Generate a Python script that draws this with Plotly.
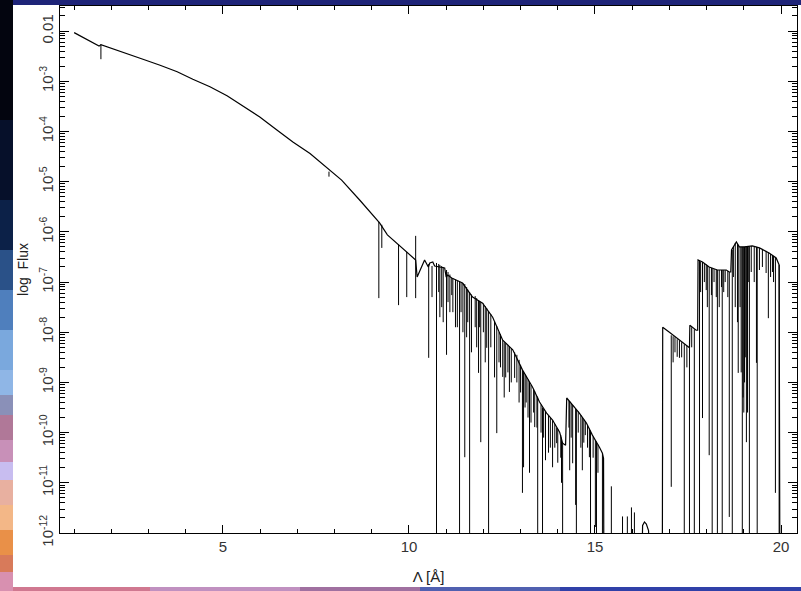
import numpy as np
import plotly.graph_objects as go

# ---- data (wavelength in Angstrom, log10 flux) ----
cont_wl = [1.00, 1.67, 1.72, 2.42, 2.85, 3.31, 3.77, 4.19, 4.65, 5.11, 5.54, 5.99, 6.45, 6.88,
           7.34, 8.19, 8.68, 9.08, 9.21, 9.42, 9.66, 9.94, 10.10, 10.18, 10.22, 10.42, 10.52,
           10.56, 10.64, 10.69, 10.96, 11.00, 11.04, 11.15, 11.44,
           11.71, 11.98, 12.25, 12.52, 12.79, 13.05, 13.16, 13.32, 13.51, 13.70, 13.86, 14.05,
           14.13, 14.21, 14.24, 14.40, 14.58, 14.77, 14.93, 15.12, 15.20, 15.23, 15.24,
           16.25, 16.28, 16.33, 16.38, 16.44, 16.48, 16.81, 16.82, 17.00, 17.27, 17.54,
           17.55, 17.72, 17.76, 17.77, 17.89, 18.07, 18.29, 18.53, 18.61, 18.65, 18.67,
           18.80, 18.88, 19.01, 19.23, 19.42, 19.68, 19.87, 19.95, 19.97]
cont_logf = [-2.03, -2.30, -2.27, -2.44, -2.56, -2.68, -2.81, -2.96, -3.11, -3.29, -3.49, -3.71,
             -3.97, -4.21, -4.44, -4.97, -5.37,
             -5.71, -5.82, -6.06, -6.22, -6.40, -6.52, -6.56, -6.90, -6.56, -6.70,
             -6.62, -6.60, -6.68, -6.72, -6.90, -6.86,
             -6.92, -7.02, -7.30, -7.42, -7.70, -8.16, -8.35, -8.75, -8.89, -9.09, -9.39, -9.61,
             -9.75, -9.99, -10.21, -10.25, -9.31, -9.45, -9.61, -9.81, -10.05, -10.29, -10.41,
             -10.51, -13.0, -13.0, -11.85, -11.78, -11.82, -11.95, -13.0, -13.0, -7.90, -8.00,
             -8.16, -8.31, -7.86, -7.96, -7.96, -6.56, -6.60, -6.70, -6.76, -6.76, -6.80, -6.80,
             -6.36, -6.20, -6.30, -6.30, -6.28, -6.32, -6.42, -6.52, -6.66, -13.0]

line_wl = [1.72, 7.85, 9.19, 9.27, 9.72, 9.94, 10.18, 10.53, 10.74, 10.80, 10.83, 10.88, 11.01,
           11.05, 11.15, 11.18, 11.25, 11.36, 11.40, 11.45, 11.50, 11.55, 11.63, 11.78, 11.82,
           11.87, 11.93, 12.00, 12.09, 12.14, 12.36, 12.42, 12.52, 12.60, 12.70, 12.84, 12.90,
           13.05, 13.08, 13.15, 13.24, 13.28, 13.38, 13.44, 13.46, 13.59, 13.62, 13.67, 13.80,
           13.86, 13.97, 14.00, 14.10, 14.13, 14.32, 14.40, 14.48, 14.50, 14.66, 14.74, 14.85,
           14.88, 15.01, 15.04, 15.20, 15.44, 15.74, 15.87, 15.98, 16.06,
           17.05, 17.21, 17.27, 17.40, 17.54, 17.67, 17.81, 17.89, 17.99, 18.07, 18.13, 18.15,
           18.26, 18.29, 18.40, 18.42, 18.61, 18.69, 18.83, 18.85, 18.96, 18.98, 19.02, 19.04,
           19.07, 19.10, 19.15, 19.34, 19.36, 19.42, 19.60, 19.66, 19.77, 19.85, 19.95,
           10.62, 10.92, 11.10, 11.30, 11.58, 11.68, 11.90, 12.05, 12.20, 12.30, 12.46, 12.56,
           12.66, 12.75, 12.96, 13.00, 13.12, 13.20, 13.35, 13.55, 13.75, 13.92, 14.08, 14.30,
           14.36, 14.55, 14.62, 14.70, 14.80, 14.95, 15.08,
           17.10, 17.15, 17.33, 17.47, 17.60, 17.84, 17.94, 18.02, 18.20, 18.34, 18.46, 18.50,
           18.57, 18.72, 18.77, 18.90, 18.93, 19.00, 19.12, 19.20, 19.28, 19.50, 19.72, 19.80]
line_top = [-2.27, -4.80, -5.80, -5.86, -6.25, -6.40, -6.08, -6.64, -6.62, -6.64, -6.66, -6.68,
            -6.76, -6.80, -6.92, -6.93, -6.95, -6.99, -7.00, -7.02, -7.04, -7.10, -7.20, -7.28,
            -7.32, -7.36, -7.40, -7.43, -7.52, -7.58, -7.88, -8.00, -8.16, -8.22, -8.28, -8.40,
            -8.45, -8.75, -8.78, -8.87, -8.99, -9.05, -9.18, -9.27, -9.30, -9.50, -9.53, -9.58,
            -9.70, -9.75, -9.90, -9.93, -10.10, -10.21, -9.38, -9.45, -9.52, -9.54, -9.70, -9.78,
            -9.92, -9.96, -10.15, -10.18, -10.41, -11.07, -11.67, -11.67, -11.49, -11.59,
            -8.06, -8.14, -8.16, -8.24, -8.31, -7.94, -6.58, -6.60, -6.65, -6.70, -6.72, -6.72,
            -6.75, -6.76, -6.76, -6.76, -6.80, -6.36, -6.24, -6.26, -6.30, -6.30, -6.30, -6.30,
            -6.30, -6.30, -6.29, -6.30, -6.31, -6.32, -6.38, -6.41, -6.46, -6.50, -6.66,
            -6.68, -6.70, -6.85, -6.98, -7.15, -7.25, -7.38, -7.48, -7.64, -7.78, -8.04, -8.20,
            -8.26, -8.32, -8.55, -8.65, -8.84, -8.94, -9.13, -9.44, -9.65, -9.83, -10.05, -9.37,
            -9.42, -9.58, -9.65, -9.74, -9.85, -10.08, -10.24,
            -8.08, -8.10, -8.20, -8.27, -7.90, -6.59, -6.62, -6.67, -6.74, -6.76, -6.76, -6.76,
            -6.78, -6.30, -6.22, -6.30, -6.30, -6.30, -6.30, -6.28, -6.29, -6.35, -6.44, -6.48]
line_bottom = [-2.56, -4.90, -7.32, -6.32, -7.46, -7.30, -7.32, -8.51, -13.0, -7.20, -7.70, -7.50,
               -8.45, -7.40, -7.26, -7.60, -7.90, -13.0, -7.60, -8.00, -10.49, -8.10, -13.0, -7.90,
               -8.30, -8.81, -10.19, -8.00, -8.31, -13.0, -10.01, -8.60, -8.89, -8.90, -9.19, -8.91,
               -9.00, -11.20, -10.69, -9.40, -10.80, -9.80, -9.89, -9.90, -13.0, -13.0, -10.10,
               -10.55, -10.30, -10.69, -10.21, -10.60, -11.00, -13.0, -10.75, -10.61, -11.44, -13.0,
               -10.75, -10.05, -10.49, -13.0, -11.88, -13.0, -13.0, -13.0, -13.0, -13.0, -13.0,
               -13.0, -11.08, -8.49, -8.51, -13.0, -13.0, -13.0, -13.0, -9.71, -7.16, -10.45,
               -7.26, -13.0, -7.30, -13.0, -7.10, -13.0, -11.68, -13.0, -7.80, -8.81, -13.0, -9.30,
               -9.00, -8.50, -10.19, -9.60, -13.0, -8.61, -13.0, -6.76, -6.82, -7.72, -6.80,
               -11.20, -13.0,
               -7.30, -7.80, -7.60, -7.90, -7.80, -8.40, -7.90, -8.60, -8.30, -8.90, -8.70, -9.30,
               -8.80, -9.00, -9.40, -9.20, -9.50, -9.70, -9.60, -10.00, -10.40, -10.30, -10.50,
               -9.90, -10.10, -10.00, -10.30, -10.20, -10.30, -10.50, -10.80,
               -8.60, -8.40, -8.50, -8.70, -8.30, -7.20, -7.00, -7.50, -7.00, -7.50, -7.20, -7.00,
               -7.30, -6.90, -7.50, -7.50, -8.80, -9.60, -7.00, -6.80, -7.00, -6.70, -6.90, -7.00]

x_tickvals = [5, 10, 15, 20]
y_tickvals = [-2, -3, -4, -5, -6, -7, -8, -9, -10, -11, -12]
y_ticktext = ["0.01"] + ["10<sup>-%d</sup>" % k for k in range(3, 13)]

# ---- build traces ----
cont_flux = [10 ** v for v in cont_logf]
seg_x, seg_y = [], []
for w, t, b in zip(line_wl, line_top, line_bottom):
    seg_x += [w, w, None]
    seg_y += [10 ** t, 10 ** b, None]

fig = go.Figure()
fig.add_trace(go.Scatter(x=cont_wl, y=cont_flux, mode="lines",
                         line=dict(color="black", width=1.2), showlegend=False,
                         hoverinfo="skip"))
fig.add_trace(go.Scatter(x=seg_x, y=seg_y, mode="lines",
                         line=dict(color="black", width=1), showlegend=False,
                         hoverinfo="skip"))

# ---- background decoration (space-like frame) ----
W, H = 801, 591
L, R, T, B = 60, 797, 6, 533
pw, ph = R - L, B - T


def px(xp):
    return (xp - L) / pw


def py(yp):
    return (B - yp) / ph


shapes = []
shapes.append(dict(type="rect", xref="paper", yref="paper", layer="below",
                   x0=px(13), x1=px(801), y0=py(587), y1=py(5),
                   fillcolor="white", line=dict(width=0)))
left_bands = [(0, 120, "#03050f"), (120, 200, "#06102a"), (200, 250, "#0c2148"),
              (250, 290, "#2a5188"), (290, 330, "#4f7fbd"), (330, 370, "#7aa8dd"),
              (370, 395, "#8fb6e6"), (395, 415, "#8a90b8"), (415, 440, "#b07898"),
              (440, 462, "#c890b8"), (462, 480, "#c8bdf0"), (480, 505, "#e8b0a0"),
              (505, 530, "#f3b787"), (530, 555, "#e99048"), (555, 572, "#d87a5a"),
              (572, 591, "#d890b0")]
for y0, y1, c in left_bands:
    shapes.append(dict(type="rect", xref="paper", yref="paper", layer="below",
                       x0=px(0), x1=px(13), y0=py(y1), y1=py(y0),
                       fillcolor=c, line=dict(width=0)))
bottom_bands = [(13, 150, "#d07890"), (150, 300, "#c090c0"), (300, 420, "#a070a0"),
                (420, 560, "#5060b0"), (560, 801, "#3040a8")]
for x0, x1, c in bottom_bands:
    shapes.append(dict(type="rect", xref="paper", yref="paper", layer="below",
                       x0=px(x0), x1=px(x1), y0=py(591), y1=py(587),
                       fillcolor=c, line=dict(width=0)))

font = dict(family="Liberation Sans, Arial, sans-serif", size=14, color="#222222")

fig.update_layout(
    width=W, height=H,
    margin=dict(l=L, r=W - R, t=T, b=H - B),
    paper_bgcolor="#1e2478",
    plot_bgcolor="white",
    shapes=shapes,
    font=font,
    xaxis=dict(range=[0.62, 20.43], tickvals=x_tickvals, ticks="inside", ticklen=8,
               tickcolor="black", showline=True, linecolor="black", linewidth=1,
               mirror="allticks", showgrid=False, zeroline=False,
               tickfont=dict(size=15, color="#333333"),
               minor=dict(dtick=1, tick0=0, ticks="inside", ticklen=4, tickcolor="black",
                          showgrid=False),
               title=dict(text="\u039b [\u00c5]", font=dict(size=15, color="#222222"),
                          standoff=17)),
    yaxis=dict(type="log", range=[-12, -1.5],
               tickvals=[10 ** v for v in y_tickvals], ticktext=y_ticktext,
               tickangle=-90, ticks="inside", ticklen=9, tickcolor="black",
               showline=True, linecolor="black", linewidth=1, mirror="allticks",
               showgrid=False, zeroline=False,
               tickfont=dict(size=15, color="#333333"),
               minor=dict(dtick="D1", ticks="inside", ticklen=5, tickcolor="black",
                          showgrid=False),
               title=dict(text="log  Flux", font=dict(size=14, color="#222222"),
                          standoff=4)),
)

fig.write_html("out.html")
